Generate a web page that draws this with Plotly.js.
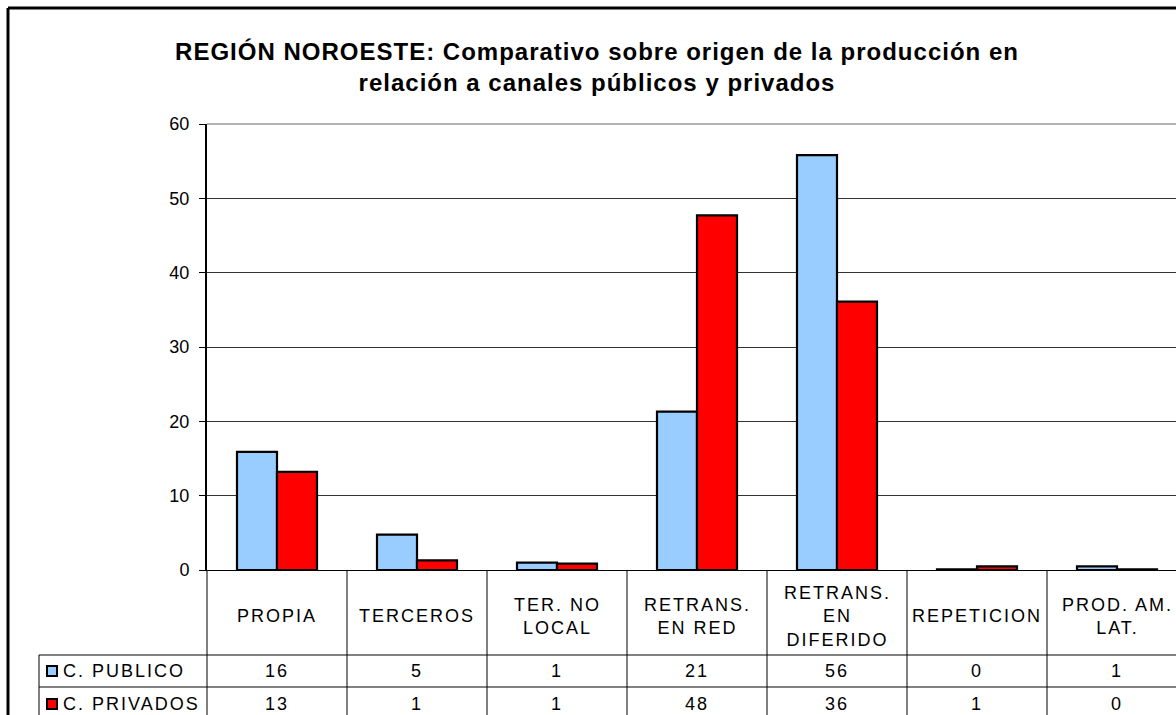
<!DOCTYPE html>
<html>
<head>
<meta charset="utf-8">
<script src="https://cdn.plot.ly/plotly-3.0.1.min.js"></script>
<style>
  html, body { margin: 0; padding: 0; background: #fff; overflow: hidden; }
  #chart { width: 1176px; height: 715px; }
  .annotation-text { letter-spacing: 2px; }
  .gtitle { letter-spacing: 1px; }
</style>
</head>
<body>
<div id="chart"></div>
<script>
// categories (header row of the data table)
const categories = [
  "PROPIA", "TERCEROS", "TER. NO<br>LOCAL", "RETRANS.<br>EN RED",
  "RETRANS.<br>EN<br>DIFERIDO", "REPETICION", "PROD. AM.<br>LAT."
];
const seriesNames = ["C. PUBLICO", "C. PRIVADOS"];
const seriesColors = ["#99CCFF", "#FF0000"];

// bar heights
const publico = [15.9, 4.75, 0.98, 21.3, 55.8, 0.1, 0.5];
const privados = [13.2, 1.3, 0.85, 47.7, 36.1, 0.5, 0.1];

// values as printed in the data table
const publicoTable = ["16", "5", "1", "21", "56", "0", "1"];
const privadosTable = ["13", "1", "1", "48", "36", "1", "0"];

const yTicks = [0, 10, 20, 30, 40, 50, 60];

// plot frame in pixels (the chart runs off the right edge of the window)
const W = 1176, H = 715;
const M = { l: 207, r: 0, t: 124, b: 145 };
const plotW = W - M.l - M.r, plotH = H - M.t - M.b;
const catPx = 140;
const xRange = [-0.5, -0.5 + plotW / catPx];

// helpers: page pixels -> paper coordinates (for the table frame)
const px = (p) => (p - M.l) / plotW;
const py = (p) => (H - M.b - p) / plotH;

const FONT = "Liberation Sans, Arial, sans-serif";

const traces = [publico, privados].map((vals, i) => ({
  type: "bar",
  name: seriesNames[i],
  x: categories,
  y: vals,
  marker: { color: seriesColors[i], line: { color: "#000", width: 2.2 } },
  hoverinfo: "x+y",
}));

// ---- data table under the plot ----
const shapes = [];
const line = (x0, y0, x1, y1, extra) => Object.assign({
  type: "line", xref: "paper", yref: "paper", x0, y0, x1, y1,
  line: { color: "#000", width: 1 }, layer: "above",
}, extra || {});

// column dividers, one between each pair of categories
categories.forEach((c, i) => {
  shapes.push({
    type: "line", xref: "x", yref: "paper",
    x0: i + 0.5, x1: i + 0.5, y0: py(570), y1: py(H + 5),
    line: { color: "#000", width: 1 },
  });
});
shapes.push(line(0, py(570), 0, py(H + 5)));
shapes.push(line(px(39), py(655), 1.01, py(655)));
shapes.push(line(px(39), py(687), 1.01, py(687)));
shapes.push(line(px(39), py(655), px(39), py(H + 5)));
// light top edge of the plot area
shapes.push(line(0, 1, 1.01, 1, { line: { color: "#9a9a9a", width: 1.5 } }));
// outer chart border (left and top)
shapes.push(line(px(8), py(8), px(8), py(H + 5), { line: { color: "#000", width: 3 } }));
shapes.push(line(px(8), py(8), 1.01, py(8), { line: { color: "#000", width: 3 } }));

// legend keys in the table
const rowCenters = [671, 704];
seriesColors.forEach((col, i) => {
  shapes.push({
    type: "rect", xref: "paper", yref: "paper",
    x0: px(47), x1: px(57), y0: py(rowCenters[i] - 5), y1: py(rowCenters[i] + 5),
    fillcolor: col, line: { color: "#000", width: 2 }, layer: "above",
  });
});

const annotations = [];
const tableFont = { family: FONT, size: 18, color: "#000" };
categories.forEach((c, i) => {
  annotations.push({
    xref: "x", yref: "paper", x: c, y: py(616),
    text: c, showarrow: false, xanchor: "center", yanchor: "middle",
    font: tableFont,
  });
});
[publicoTable, privadosTable].forEach((row, r) => {
  annotations.push({
    xref: "paper", yref: "paper", x: px(61), y: py(rowCenters[r]),
    text: seriesNames[r], showarrow: false, xanchor: "left", yanchor: "middle",
    font: tableFont,
  });
  row.forEach((v, i) => {
    annotations.push({
      xref: "x", yref: "paper", x: categories[i], y: py(rowCenters[r]),
      text: v, showarrow: false, xanchor: "center", yanchor: "middle",
      font: tableFont,
    });
  });
});

const layout = {
  width: W,
  height: H,
  margin: M,
  paper_bgcolor: "#fff",
  plot_bgcolor: "#fff",
  showlegend: false,
  barmode: "group",
  bargap: 1 - 80 / 140,
  bargroupgap: 0,
  font: { family: FONT, color: "#000" },
  title: {
    text: "<b>REGIÓN NOROESTE: Comparativo sobre origen de la producción en<br>relación a canales públicos y privados</b>",
    font: { family: FONT, size: 24, color: "#000" },
    xref: "container", x: 597 / W,
    yref: "container", y: 1 - 60 / H, yanchor: "top",
  },
  xaxis: {
    type: "category",
    range: xRange,
    showticklabels: false,
    showgrid: false,
    zeroline: false,
    showline: true,
    linecolor: "#000",
    linewidth: 1,
    ticks: "",
    fixedrange: true,
  },
  yaxis: {
    range: [0, 60],
    tickvals: yTicks,
    ticks: "outside",
    ticklen: 6,
    tickcolor: "#000",
    ticklabelstandoff: 6,
    tickfont: { family: FONT, size: 18, color: "#000" },
    showgrid: true,
    gridcolor: "#333",
    gridwidth: 1,
    zeroline: false,
    showline: true,
    linecolor: "#000",
    linewidth: 2,
    fixedrange: true,
  },
  shapes,
  annotations,
};

Plotly.newPlot("chart", traces, layout, { displayModeBar: false, staticPlot: true });
</script>
</body>
</html>
